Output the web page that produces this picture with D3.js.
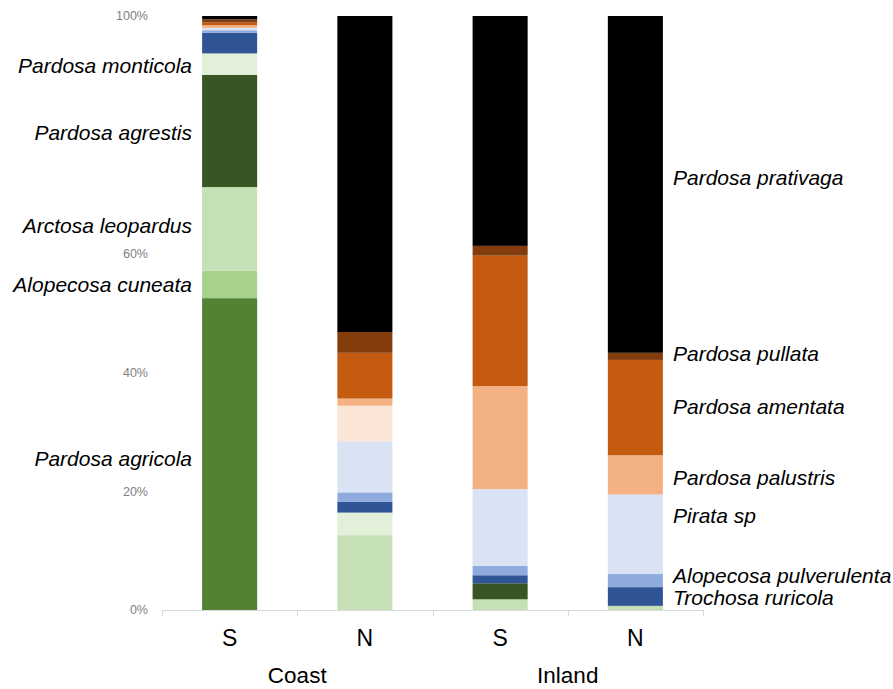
<!DOCTYPE html>
<html>
<head>
<meta charset="utf-8">
<script src="https://cdn.jsdelivr.net/npm/d3@7"></script>
<style>
  html, body { margin: 0; padding: 0; background: #fff; }
  svg { display: block; }
</style>
</head>
<body>
<svg id="chart" width="893" height="689"></svg>
<script>
// ---- data ----
const bars = ["S", "N", "S", "N"];
const groups = ["Coast", "Inland"];
const species = [
  "Pardosa agricola", "Alopecosa cuneata", "Arctosa leopardus", "Pardosa agrestis",
  "Pardosa monticola", "Trochosa ruricola", "Alopecosa pulverulenta", "Pirata sp",
  "Unlabelled", "Pardosa palustris", "Pardosa amentata", "Pardosa pullata", "Pardosa prativaga"
];
// percentages per bar (Coast S, Coast N, Inland S, Inland N)
const agricola     = [52.5, 0, 0, 0];
const cuneata      = [4.6, 0, 0, 0];
const leopardus    = [14.1, 12.6, 1.8, 0.7];
const agrestis     = [18.9, 0, 2.7, 0];
const monticola    = [3.6, 3.8, 0, 0];
const trochosa     = [3.5, 1.8, 1.35, 3.15];
const pulverulenta = [0.4, 1.6, 1.6, 2.2];
const pirata       = [0.4, 8.6, 12.9, 13.4];
const unlabelled   = [0, 6.0, 0, 0];
const palustris    = [0.45, 1.2, 17.35, 6.6];
const amentata     = [0.45, 7.7, 21.95, 16.05];
const pullata      = [0.55, 3.5, 1.65, 1.2];
const prativaga    = [0.55, 53.2, 38.7, 56.7];
const tickValues = [0, 20, 40, 60, 100];

const seriesValues = [agricola, cuneata, leopardus, agrestis, monticola, trochosa,
  pulverulenta, pirata, unlabelled, palustris, amentata, pullata, prativaga];
const colors = ["#548235", "#A9D18E", "#C5E0B4", "#375623", "#E2F0D9", "#2F5597",
  "#8FAADC", "#DAE3F3", "#FBE5D6", "#F4B183", "#C55A11", "#843C0C", "#000000"];
// labels: left side labelled against bar 0, right side against bar 3
const leftLabels = ["Pardosa agricola", "Alopecosa cuneata", "Arctosa leopardus", "Pardosa agrestis", "Pardosa monticola"];
const rightLabels = ["Pardosa prativaga", "Pardosa pullata", "Pardosa amentata", "Pardosa palustris", "Pirata sp", "Alopecosa pulverulenta", "Trochosa ruricola"];

// ---- layout ----
const svg = d3.select("#chart");
const x = d3.scaleBand().domain(d3.range(bars.length)).range([162, 703]).paddingInner(0.593).paddingOuter(0.2965);
const y = d3.scaleLinear().domain([0, 100]).range([610, 16]);
const color = d3.scaleOrdinal().domain(species).range(colors);

const table = bars.map((b, i) => {
  const row = { idx: i };
  species.forEach((s, k) => row[s] = seriesValues[k][i]);
  return row;
});
const stacked = d3.stack().keys(species)(table);

svg.append("g").selectAll("g").data(stacked).join("g")
  .attr("fill", d => color(d.key))
  .selectAll("rect").data(d => d).join("rect")
  .attr("x", d => x(d.data.idx))
  .attr("width", x.bandwidth())
  .attr("y", d => y(d[1]))
  .attr("height", d => Math.max(0, y(d[0]) - y(d[1])));

// y tick labels
svg.append("g").selectAll("text").data(tickValues).join("text")
  .attr("x", 148).attr("y", d => y(d)).attr("dy", "0.35em")
  .attr("text-anchor", "end")
  .attr("font-family", "'Liberation Sans', Arial, sans-serif")
  .attr("font-size", 12.5).attr("fill", "#808080")
  .text(d => d + "%");

// x axis
const [x0, x1] = x.range();
const ax = svg.append("g");
ax.append("line").attr("x1", x0).attr("x2", x1).attr("y1", y(0) + 0.5).attr("y2", y(0) + 0.5)
  .attr("stroke", "#d9d9d9").attr("stroke-width", 1);
ax.selectAll("line.tick").data(d3.range(bars.length + 1)).join("line").attr("class", "tick")
  .attr("x1", i => Math.round(x0 + i * x.step()) + 0.5).attr("x2", i => Math.round(x0 + i * x.step()) + 0.5)
  .attr("y1", y(0)).attr("y2", y(0) + 6)
  .attr("stroke", "#d9d9d9");

svg.append("g").selectAll("text").data(bars).join("text")
  .attr("x", (d, i) => x(i) + x.bandwidth() / 2)
  .attr("y", 646)
  .attr("text-anchor", "middle")
  .attr("font-family", "'Liberation Sans', Arial, sans-serif")
  .attr("font-size", 23).attr("fill", "#000")
  .text(d => d);

svg.append("g").selectAll("text").data(groups).join("text")
  .attr("x", (d, i) => x0 + (2 * i + 1) * x.step())
  .attr("y", 683)
  .attr("text-anchor", "middle")
  .attr("font-family", "'Liberation Sans', Arial, sans-serif")
  .attr("font-size", 22.5).attr("fill", "#000")
  .text(d => d);

// species labels at segment midpoints
function mid(barIdx, name) {
  const s = stacked.find(t => t.key === name)[barIdx];
  return y((s[0] + s[1]) / 2);
}
const nudge = { "Pardosa agrestis": 2, "Arctosa leopardus": -3, "Pardosa monticola": 2, "Pardosa agricola": 5,
  "Pardosa prativaga": -7, "Pardosa pullata": -3, "Pirata sp": -19, "Alopecosa pulverulenta": -5, "Trochosa ruricola": 1, "Pardosa palustris": 3, "Pardosa amentata": -1 };
const labelFont = "'Liberation Sans', Arial, sans-serif";
svg.append("g").selectAll("text").data(leftLabels).join("text")
  .attr("x", 192).attr("y", d => mid(0, d) + (nudge[d] || 0)).attr("dy", "0.35em")
  .attr("text-anchor", "end").attr("font-family", labelFont).attr("font-style", "italic")
  .attr("font-size", 21).attr("fill", "#000").text(d => d);
svg.append("g").selectAll("text").data(rightLabels).join("text")
  .attr("x", 673).attr("y", d => mid(3, d) + (nudge[d] || 0)).attr("dy", "0.35em")
  .attr("text-anchor", "start").attr("font-family", labelFont).attr("font-style", "italic")
  .attr("font-size", 21).attr("fill", "#000").text(d => d);
</script>
</body>
</html>
